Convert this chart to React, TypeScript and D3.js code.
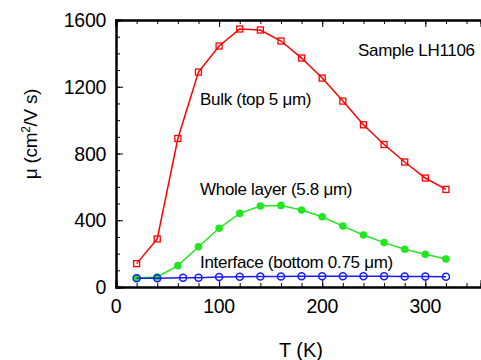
import React, { useEffect, useRef } from 'react';
import * as d3 from 'd3';

// temperatures (K)
const temps = [20, 40, 60, 80, 100, 120, 140, 160, 180, 200, 220, 240, 260, 280, 300, 320];
const bulk = [140, 288, 890, 1288, 1444, 1546, 1540, 1474, 1372, 1252, 1114, 972, 854, 749, 653, 585];
const whole = [54, 60, 128, 241, 352, 441, 485, 489, 461, 421, 365, 312, 266, 226, 196, 168];
const ifaceT = [20, 40, 65, 80, 100, 120, 140, 160, 180, 200, 220, 240, 260, 280, 300, 320];
const iface = [52, 52, 55, 55, 60, 62, 63, 63, 64, 64, 64, 64, 64, 63, 63, 62];

const xMajor = [0, 100, 200, 300];
const yMajor = [0, 400, 800, 1200, 1600];

const FONT = '"Liberation Sans", Arial, Helvetica, sans-serif';

const App = () => {
  const ref = useRef<SVGSVGElement>(null);

  useEffect(() => {
    const svg = d3.select(ref.current);
    svg.selectAll('*').remove();

    const x = d3.scaleLinear().domain([0, 354]).range([116, 481]);
    const y = d3.scaleLinear().domain([0, 1600]).range([287, 20]);

    const xMinor = d3.range(0, 350, 20);
    const yMinor = d3.range(0, 1601, 100);

    // axes
    const bottom = svg.append('g').attr('transform', `translate(0, ${y(0)})`);
    bottom.call(d3.axisBottom(x).tickValues(xMinor).tickSize(-4).tickFormat(() => ''));
    bottom.call(g => g.append('g').call(d3.axisBottom(x).tickValues(xMajor).tickSize(-7).tickFormat(() => '')));

    const top = svg.append('g').attr('transform', `translate(0, ${y(1600)})`);
    top.call(d3.axisTop(x).tickValues(xMinor).tickSize(-4).tickFormat(() => ''));
    top.call(g => g.append('g').call(d3.axisTop(x).tickValues(xMajor).tickSize(-7).tickFormat(() => '')));

    const left = svg.append('g').attr('transform', `translate(${x(0)}, 0)`);
    left.call(d3.axisLeft(y).tickValues(yMinor).tickSize(-4).tickFormat(() => ''));
    left.call(g => g.append('g').call(d3.axisLeft(y).tickValues(yMajor).tickSize(-7).tickFormat(() => '')));

    svg.selectAll('.domain').attr('stroke', '#000').attr('stroke-width', 2);
    svg.selectAll('.tick line').attr('stroke', '#000').attr('stroke-width', 1);

    // tick labels
    svg.append('g').selectAll('text').data(xMajor).enter().append('text')
      .attr('x', d => x(d)).attr('y', 313)
      .attr('text-anchor', 'middle')
      .style('font-family', FONT).style('font-size', '19.5px').style('letter-spacing', '-0.3px')
      .text(d => d);

    svg.append('g').selectAll('text').data(yMajor).enter().append('text')
      .attr('x', 106).attr('y', d => y(d) + 7)
      .attr('text-anchor', 'end')
      .style('font-family', FONT).style('font-size', '19.5px').style('letter-spacing', '-0.3px')
      .text(d => d);

    // axis titles
    svg.append('text')
      .attr('x', 301).attr('y', 357)
      .attr('text-anchor', 'middle')
      .style('font-family', FONT).style('font-size', '20px')
      .text('T (K)');

    const yt = svg.append('text')
      .attr('transform', 'translate(37, 134) rotate(-90)')
      .attr('text-anchor', 'middle')
      .style('font-family', FONT).style('font-size', '19px').style('letter-spacing', '-0.3px');
    yt.append('tspan').text('\u03bc (cm');
    yt.append('tspan').attr('dy', -7).style('font-size', '12px').text('2');
    yt.append('tspan').attr('dy', 7).text('/V s)');

    // series
    const line = d3.line<[number, number]>().x(d => x(d[0])).y(d => y(d[1]));
    const pts = (xs: number[], ys: number[]) => xs.map((t, i) => [t, ys[i]] as [number, number]);

    const bulkPts = pts(temps, bulk);
    const wholePts = pts(temps, whole);
    const ifacePts = pts(ifaceT, iface);

    // bulk (red open squares)
    svg.append('path').datum(bulkPts).attr('d', line)
      .attr('fill', 'none').attr('stroke', '#ff0000').attr('stroke-width', 1.5);
    svg.append('g').selectAll('rect').data(bulkPts).enter().append('rect')
      .attr('x', d => x(d[0]) - 3).attr('y', d => y(d[1]) - 3)
      .attr('width', 6).attr('height', 6)
      .attr('fill', 'none').attr('stroke', '#ff0000').attr('stroke-width', 1.3);

    // whole layer (green filled circles)
    svg.append('path').datum(wholePts).attr('d', line)
      .attr('fill', 'none').attr('stroke', '#22e622').attr('stroke-width', 1.5);
    svg.append('g').selectAll('circle').data(wholePts).enter().append('circle')
      .attr('cx', d => x(d[0])).attr('cy', d => y(d[1])).attr('r', 3.8)
      .attr('fill', '#22e622');

    // interface (blue open circles)
    svg.append('path').datum(ifacePts).attr('d', line)
      .attr('fill', 'none').attr('stroke', '#1a1aff').attr('stroke-width', 1.5);
    svg.append('g').selectAll('circle').data(ifacePts).enter().append('circle')
      .attr('cx', d => x(d[0])).attr('cy', d => y(d[1])).attr('r', 3.5)
      .attr('fill', 'none').attr('stroke', '#1a1aff').attr('stroke-width', 1.5);

    // annotations
    const labels = [
      { text: 'Sample LH1106', x: 358, y: 56 },
      { text: 'Bulk (top 5 \u03bcm)', x: 200, y: 105 },
      { text: 'Whole layer (5.8 \u03bcm)', x: 200, y: 195 },
      { text: 'Interface (bottom 0.75 \u03bcm)', x: 200, y: 268 },
    ];
    svg.append('g').selectAll('text').data(labels).enter().append('text')
      .attr('x', d => d.x).attr('y', d => d.y)
      .style('font-family', FONT).style('font-size', '17px').style('letter-spacing', '-0.3px')
      .text(d => d.text);
  }, []);

  return (
    <svg ref={ref} width={481} height={360}
      style={{ position: 'absolute', left: 0, top: 0, background: '#fff' }} />
  );
};

export default App;
